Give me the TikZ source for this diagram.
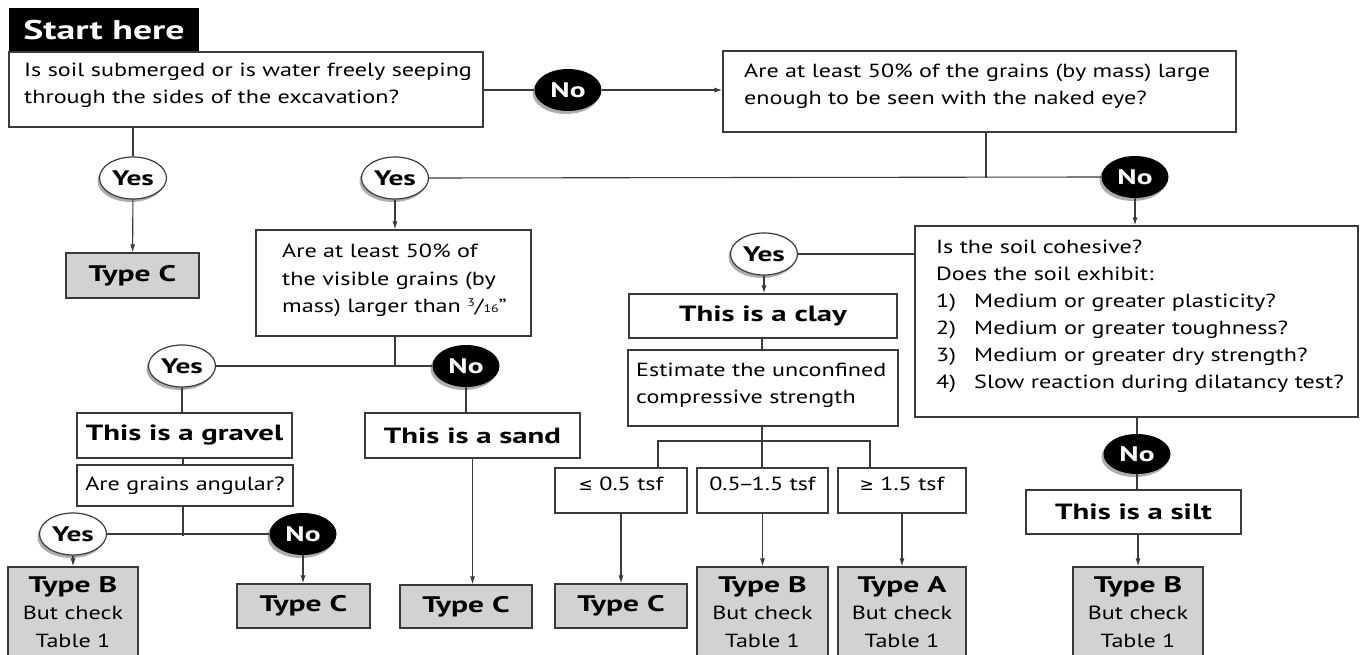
\documentclass[tikz,border=0pt]{standalone}
\usepackage{fontspec}
\setmainfont{PT Sans}[FakeStretch=1.27, BoldFeatures={FakeStretch=1.4}]
\newfontfamily\symfam{DejaVu Sans}
\usetikzlibrary{shapes.geometric,shadows,arrows.meta,calc}
\definecolor{edge}{HTML}{3A3A3A}
\definecolor{typefill}{HTML}{D2D2D2}
\tikzset{
  box/.style={draw=edge, line width=1.3pt, fill=white, rectangle, inner sep=0pt},
  typebox/.style={box, fill=typefill, align=center, font=\fontsize{19}{27.5}\selectfont},
  txt/.style={inner sep=0pt, align=left, font=\fontsize{19}{26.8}\selectfont},
  lbl/.style={font=\fontsize{22}{26}\selectfont\bfseries},
  tsf/.style={font=\fontsize{19}{24}\selectfont, text depth=14pt},
  yesnode/.style={ellipse, draw=edge, line width=1.2pt, fill=white, inner sep=0pt,
    minimum width=67pt, minimum height=42pt, font=\fontsize{21}{24}\selectfont\bfseries,
    drop shadow={shadow xshift=-2pt, shadow yshift=-3pt, fill=black!40, opacity=0.8}},
  nonode/.style={ellipse, fill=black, text=white, inner sep=0pt,
    minimum width=67pt, minimum height=42pt, font=\fontsize{21}{24}\selectfont\bfseries,
    drop shadow={shadow xshift=-2pt, shadow yshift=-3pt, fill=black!40, opacity=0.8}},
  conn/.style={draw=edge, line width=1.1pt},
  arr/.style={conn, -{Latex[length=8pt,width=5pt]}},
}
\newcommand{\tb}[1]{{\fontsize{22.5}{27.5}\selectfont\bfseries #1}}
\newcommand{\symb}[1]{{\symfam\fontsize{17}{20}\selectfont #1}}
\begin{document}
\begin{tikzpicture}[x=1pt,y=-1pt]
\useasboundingbox[fill=white] (0,0) rectangle (1360,655);

% start
\node[fill=black, text=white, minimum width=190pt, minimum height=44pt, inner sep=0pt,
  font=\fontsize{27}{30}\selectfont\bfseries] (start) at (104,30) {Start here};

% question boxes
\node[box, minimum width=474pt, minimum height=75pt] (q1) at (246,89.5) {};
\node[txt, anchor=west] (q1t) at (24,85) {Is soil submerged or is water freely seeping\\through the sides of the excavation?};

\node[box, minimum width=513pt, minimum height=81pt] (q2) at (979.5,91.5) {};
\node[txt, anchor=west] (q2t) at (744,86.5) {Are at least 50\% of the grains (by mass) large\\enough to be seen with the naked eye?};

\node[box, minimum width=275pt, minimum height=106pt] (q3) at (393.5,283) {};
\node[txt, anchor=west, font=\fontsize{19}{27.5}\selectfont] (q3t) at (282,280.5) {Are at least 50\% of\\the visible grains (by\\mass) larger than {\fontsize{11}{11}\selectfont\raisebox{6pt}{3}}/{\fontsize{11}{11}\selectfont 16}''};

\node[box, minimum width=443pt, minimum height=191pt] (q4) at (1136.5,321.5) {};
\node[txt, anchor=west, font=\fontsize{19}{27}\selectfont] (q4t) at (936,316.5) {Is the soil cohesive?\\Does the soil exhibit:\\\makebox[38pt][l]{1)}Medium or greater plasticity?\\\makebox[38pt][l]{2)}Medium or greater toughness?\\\makebox[38pt][l]{3)}Medium or greater dry strength?\\\makebox[38pt][l]{4)}Slow reaction during dilatancy test?};

% yes / no ellipses
\node[nonode] (no1) at (568,90) {No};
\node[yesnode] (yes1) at (133,178) {Yes};
\node[yesnode] (yes2) at (395,178) {Yes};
\node[nonode] (no2) at (1135,177) {No};
\node[yesnode] (yes3) at (764,254) {Yes};
\node[yesnode] (yes4) at (182,366) {Yes};
\node[nonode] (no4) at (466,366) {No};
\node[yesnode] (yes5) at (73,534) {Yes};
\node[nonode] (no5) at (303,534) {No};
\node[nonode, minimum height=40pt] (no6) at (1137,454) {No};

% classification boxes
\node[box, lbl, minimum width=268pt, minimum height=44pt] (clay) at (763,316) {This is a clay};
\node[box, minimum width=270pt, minimum height=76pt] (est) at (763,388) {};
\node[txt, anchor=west, font=\fontsize{19}{27}\selectfont] (estt) at (636,385.5) {Estimate the unconfined\\compressive strength};
\node[box, lbl, minimum width=215pt, minimum height=45pt] (gravel) at (184.5,435.5) {This is a gravel};
\node[box, lbl, minimum width=215pt, minimum height=45pt] (sand) at (472.5,435.5) {This is a sand};
\node[box, minimum width=216pt, minimum height=41pt, font=\fontsize{19}{24}\selectfont] (ang) at (185,485.5) {Are grains angular?};
\node[box, lbl, minimum width=215pt, minimum height=44pt] (silt) at (1133.5,512) {This is a silt};

\node[box, tsf, minimum width=132pt, minimum height=45pt] (le) at (621,490.5) {\symb{≤} 0.5 tsf};
\node[box, tsf, minimum width=131pt, minimum height=45pt] (mid) at (762.5,490.5) {0.5\kern-2.5pt–\kern-2.5pt1.5 tsf};
\node[box, tsf, minimum width=128pt, minimum height=45pt] (ge) at (902,490.5) {\symb{≥} 1.5 tsf};

% result boxes
\node[typebox, minimum width=133pt, minimum height=45pt] (tc1) at (132.5,275.5) {\tb{Type C}};
\node[typebox, minimum width=133pt, minimum height=44pt] (tc2) at (303.5,606) {\tb{Type C}};
\node[typebox, minimum width=132pt, minimum height=43pt] (tc3) at (466,606.5) {\tb{Type C}};
\node[typebox, minimum width=132pt, minimum height=44pt] (tc4) at (621,606) {\tb{Type C}};
\node[typebox, minimum width=130pt, minimum height=90pt] (tb1) at (73,612) {\tb{Type B}\\But check\\Table 1};
\node[typebox, minimum width=131pt, minimum height=90pt] (tb2) at (762.5,612) {\tb{Type B}\\But check\\Table 1};
\node[typebox, minimum width=128pt, minimum height=90pt] (ta) at (902,612) {\tb{Type A}\\But check\\Table 1};
\node[typebox, minimum width=130pt, minimum height=90pt] (tb3) at (1138,612) {\tb{Type B}\\But check\\Table 1};

% junction coordinates
\coordinate (j1) at (986,178);
\coordinate (j2) at (395,366);
\coordinate (j3) at (183,536);
\coordinate (j4) at (762,441);
\coordinate (j4l) at (658,441);
\coordinate (j4r) at (870,441);

% connectors
\draw[conn] (q1.east |- no1) -- (no1);
\draw[arr] (no1) -- (no1 -| q2.west);
\draw[conn] (q1.south -| yes1) -- (yes1);
\draw[arr] (yes1) -- (tc1);
\draw[conn] (q2.south -| j1) -- (j1);
\draw[conn] (yes2.east) -- (no2.west);
\draw[arr] (yes2) -- (yes2 |- q3.north);
\draw[arr] (no2) -- (no2 |- q4.north);
\draw[conn] (yes3) -- (yes3 -| q4.west);
\draw[arr] (yes3) -- (yes3 |- clay.north);
\draw[conn] (clay.south -| j4) -- (est.north -| j4);
\draw[conn] (est.south -| j4) -- (j4);
\draw[conn] (le.north -| j4l) -- (j4l) -- (j4r) -- (ge.north -| j4r);
\draw[conn] (j4) -- (mid.north -| j4);
\draw[arr] (le) -- (tc4);
\draw[arr] (mid) -- (tb2);
\draw[arr] (ge) -- (ta);
\draw[conn] (q3.south -| j2) -- (j2);
\draw[conn] (yes4.east) -- (no4.west);
\draw[conn] (yes4) -- (yes4 |- gravel.north);
\draw[conn] (no4) -- (no4 |- sand.north);
\draw[conn] (gravel.south -| j3) -- (ang.north -| j3);
\draw[conn] (ang.south -| j3) -- (j3);
\draw[conn] (yes5.east) -- (no5.west);
\draw[arr] (yes5) -- (yes5 |- tb1.north);
\draw[arr] (no5) -- (no5 |- tc2.north);
\draw[arr] (sand) -- (sand |- tc3.north);
\draw[conn] (q4.south -| no6) -- (no6);
\draw[conn] (no6) -- (no6 |- silt.north);
\draw[arr] (silt.south -| tb3) -- (tb3.north);
\end{tikzpicture}
\end{document}
